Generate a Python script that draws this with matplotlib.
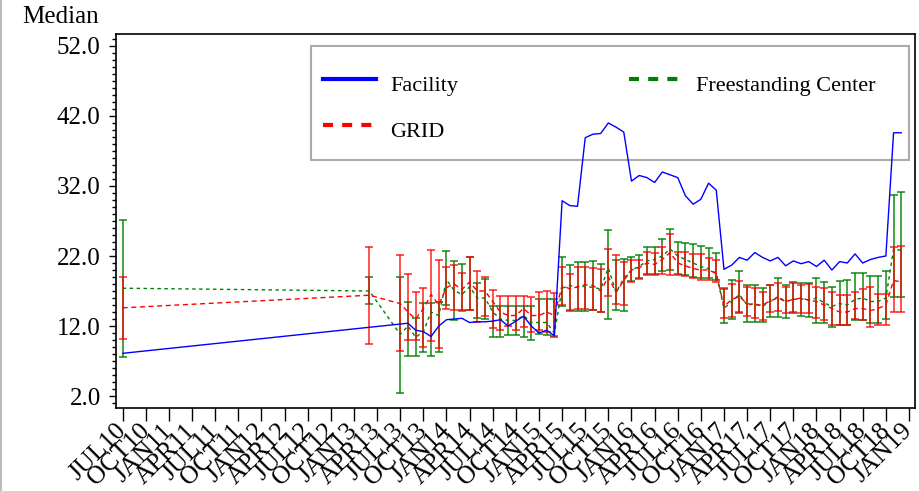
import pandas as pd
import matplotlib
matplotlib.use('Agg')
import matplotlib.pyplot as plt
from matplotlib.lines import Line2D
from matplotlib.patches import Rectangle
from matplotlib.ticker import MultipleLocator

plt.rcParams['font.family'] = ['Liberation Serif', 'DejaVu Serif']

# months that have a median (one early point, one in spring 2013, then monthly)
fac_months = ['2010-07'] + [str(p) for p in pd.period_range('2013-08', '2018-12', freq='M')]
grp_months = ['2010-07', '2013-03'] + [str(p) for p in pd.period_range('2013-07', '2018-12', freq='M')]

fac_median = [8.1,
              12.4, 11.4, 11.2, 10.5, 12.0,
              12.9, 13.0, 13.1, 12.5, 12.6, 12.6, 12.7, 12.9, 12.0, 12.7, 13.4, 12.0,
              11.0, 11.4, 10.6, 29.9, 29.2, 29.1, 38.9, 39.4, 39.5, 41.0, 40.4, 39.7,
              32.7, 33.5, 33.2, 32.5, 34.0, 33.6, 33.2, 30.6, 29.4, 30.1, 32.4, 31.4,
              20.1, 20.7, 21.8, 21.4, 22.5, 21.8, 21.3, 21.8, 20.6, 21.3, 20.9, 21.2,
              20.5, 21.4, 20.0, 21.2, 21.0, 22.3, 21.0, 21.5, 21.8, 22.0, 39.6, 39.6]

grid_median = [14.6, 16.4,
               15.2, 14.0, 13.0, 14.5, 16.5, 15.0,
               17.5, 18.0, 17.2, 18.3, 17.0, 17.0, 15.5, 14.0, 13.5, 13.5, 14.5, 13.5,
               13.5, 14.0, 13.5, 17.8, 17.3, 17.6, 17.9, 17.8, 17.0, 19.0, 16.8, 18.5,
               20.0, 20.3, 21.0, 20.8, 21.5, 22.5, 21.0, 20.6, 20.2, 20.0, 20.0, 19.5,
               14.8, 15.8, 16.2, 15.2, 15.0, 15.0, 15.6, 16.0, 15.5, 15.8, 16.0, 15.7,
               15.5, 15.0, 14.5, 14.0, 14.0, 14.5, 14.5, 14.2, 14.5, 15.0, 18.5, 18.3]
grid_lo = [10.1, 9.4,
           8.4, 10.0, 10.0, 9.0, 9.8, 8.8,
           14.4, 14.3, 14.2, 14.3, 12.6, 13.5, 11.7, 11.4, 12.0, 11.5, 11.9, 11.1,
           11.4, 11.1, 10.6, 15.0, 14.3, 14.4, 14.4, 14.3, 14.0, 16.3, 15.1, 15.0,
           18.3, 18.7, 19.3, 19.3, 19.5, 19.3, 19.3, 19.2, 18.8, 18.6, 18.6, 18.3,
           13.2, 13.3, 14.0, 13.4, 13.2, 12.9, 14.0, 14.1, 13.8, 14.0, 13.9, 13.9,
           13.1, 12.9, 12.1, 12.1, 12.1, 13.0, 12.9, 11.8, 12.2, 12.2, 14.0, 14.0]
grid_hi = [19.0, 23.3,
           22.2, 19.4, 16.8, 17.4, 22.9, 21.5,
           20.4, 20.7, 19.6, 21.8, 19.8, 19.0, 17.2, 16.3, 16.3, 16.3, 16.3, 16.1,
           16.9, 17.0, 16.7, 20.5, 19.5, 20.5, 20.5, 20.3, 20.1, 23.0, 22.1, 21.2,
           21.5, 21.5, 22.6, 22.5, 23.3, 25.1, 22.6, 22.6, 22.3, 22.3, 21.7, 21.4,
           17.4, 18.0, 18.5, 17.6, 17.5, 16.8, 17.9, 18.2, 17.6, 18.2, 17.9, 18.0,
           17.6, 17.5, 16.8, 16.4, 16.4, 16.9, 17.3, 17.6, 16.6, 16.6, 23.3, 23.5]

fsc_median = [17.4, 17.0,
              10.8, 12.0, 10.4, 11.2, 14.0, 13.5,
              18.6, 17.1, 16.5, 17.6, 16.0, 16.0, 14.0, 13.0, 12.8, 12.8, 13.5, 12.5,
              12.5, 12.5, 11.0, 17.4, 17.8, 17.5, 17.7, 17.5, 17.3, 20.3, 16.8, 18.8,
              20.0, 20.5, 21.3, 21.5, 22.0, 23.0, 22.0, 21.5, 21.0, 20.5, 20.2, 19.5,
              14.5, 15.5, 16.5, 15.0, 15.2, 14.8, 15.5, 16.2, 15.5, 15.8, 15.9, 15.7,
              16.0, 15.3, 14.8, 15.2, 15.0, 15.8, 16.0, 15.5, 15.5, 16.0, 23.0, 22.8]
fsc_lo = [7.6, 15.1,
          2.4, 7.7, 7.7, 8.3, 7.7, 8.3,
          15.0, 12.9, 14.3, 14.3, 13.1, 13.0, 10.5, 10.5, 10.7, 10.7, 10.5, 10.0,
          10.9, 10.7, 10.5, 14.8, 14.1, 14.2, 14.2, 14.3, 14.0, 13.0, 14.3, 14.1,
          18.5, 18.9, 19.5, 19.4, 19.8, 20.0, 19.4, 19.3, 19.0, 18.8, 18.8, 18.6,
          12.5, 13.0, 13.9, 12.6, 12.6, 12.6, 13.3, 13.3, 13.1, 13.9, 13.5, 13.3,
          12.5, 12.5, 11.8, 12.1, 12.1, 12.8, 12.8, 12.4, 12.4, 13.0, 16.2, 16.2]
fsc_hi = [27.1, 19.0,
          19.0, 15.5, 13.2, 15.3, 15.3, 15.5,
          22.7, 21.3, 20.9, 21.8, 18.1, 18.7, 14.9, 14.9, 14.9, 14.9, 14.8, 14.8,
          15.9, 15.8, 15.8, 21.8, 20.7, 21.2, 21.1, 21.3, 20.9, 25.7, 21.4, 21.6,
          21.9, 22.1, 23.3, 23.3, 24.4, 25.8, 24.0, 23.9, 23.7, 23.5, 23.1, 22.5,
          17.3, 18.6, 19.8, 17.8, 17.8, 17.4, 17.9, 18.8, 17.8, 18.3, 18.2, 18.2,
          18.8, 18.3, 17.6, 18.4, 18.6, 19.6, 19.6, 19.2, 19.2, 19.8, 30.7, 31.1]

y_ticks = [2, 12, 22, 32, 42, 52]
tick_months = pd.period_range('2010-07', '2019-01', freq='3M')
tick_labels = [p.strftime('%b%y').upper() for p in tick_months]


def month_pos(m):
    p = pd.Period(m, freq='M')
    return (p.year - 2010) * 12 + p.month - 7


fac_x = [month_pos(m) for m in fac_months]
grp_x = [month_pos(m) for m in grp_months]
df = pd.DataFrame({'x': grp_x,
                   'grid': grid_median, 'grid_lo': grid_lo, 'grid_hi': grid_hi,
                   'fsc': fsc_median, 'fsc_lo': fsc_lo, 'fsc_hi': fsc_hi})

fig = plt.figure(figsize=(9.2, 4.91), dpi=100)
ax = fig.add_axes([116 / 920, 1 - 408 / 491, 799 / 920, 374 / 491])

# legend frame sits behind the data, like the original
ax.add_patch(Rectangle((0.2441, 0.6631), 0.7484, 0.3048, transform=ax.transAxes,
                       fill=False, edgecolor='#aaaaaa', lw=1.5, zorder=0.5))

ax.errorbar(df['x'], df['fsc'], yerr=[df['fsc'] - df['fsc_lo'], df['fsc_hi'] - df['fsc']],
            fmt='none', ecolor='#008000', elinewidth=1.2, capsize=3.2, capthick=1.2, alpha=0.85)
ax.errorbar(df['x'], df['grid'], yerr=[df['grid'] - df['grid_lo'], df['grid_hi'] - df['grid']],
            fmt='none', ecolor='#ff0000', elinewidth=1.2, capsize=3.2, capthick=1.2, alpha=0.8)

ax.plot(df['x'], df['fsc'], color='#008000', lw=1.0, dashes=(2.5, 2.5))
ax.plot(df['x'], df['grid'], color='#ff0000', lw=1.0, dashes=(3.6, 2.6))
ax.plot(fac_x, fac_median, color='#0000ff', lw=1.0)

ax.set_xlim(-0.87, 102.78)
ax.set_ylim(0.29, 53.71)
ax.set_xticks([month_pos(str(p)) for p in tick_months])
ax.set_xticklabels(tick_labels, rotation=45, ha='right', va='center', rotation_mode='anchor')
ax.set_yticks(y_ticks)
ax.set_yticklabels([f'{v:.1f}' for v in y_ticks])
ax.yaxis.set_minor_locator(MultipleLocator(1))
ax.tick_params(axis='x', length=9, width=1, pad=5)
ax.tick_params(axis='y', which='major', length=5, width=1, pad=6)
ax.tick_params(axis='y', which='minor', length=3, width=1)
for lab in ax.get_xticklabels():
    lab.set_fontsize(18.5)
for lab in ax.get_yticklabels():
    lab.set_fontsize(18)
for s in ax.spines.values():
    s.set_linewidth(1.2)

fig.text(22 / 920, 1 - 17 / 491, 'Median', fontsize=18, ha='left', va='center')

handles = [Line2D([], [], color='#0000ff', lw=3),
           Line2D([], [], color='#ff0000', lw=3, dashes=(2.4, 2.2)),
           Line2D([], [], color='#008000', lw=3, dashes=(2.4, 2.2))]
leg = ax.legend(handles, ['Facility', 'GRID', 'Freestanding Center'], ncol=2,
                loc='upper left', bbox_to_anchor=(0.2322, 0.9679), borderaxespad=0,
                fontsize=16, handlelength=2.39, handleheight=1.9, labelspacing=0.59,
                borderpad=0.97, handletextpad=0.63, columnspacing=7.7, frameon=False)
leg.set_zorder(0.6)

fig.add_artist(Line2D([0.001, 0.001], [0, 1], color='#bbbbbb', lw=1.5))

fig.savefig('out.png', dpi=100)
